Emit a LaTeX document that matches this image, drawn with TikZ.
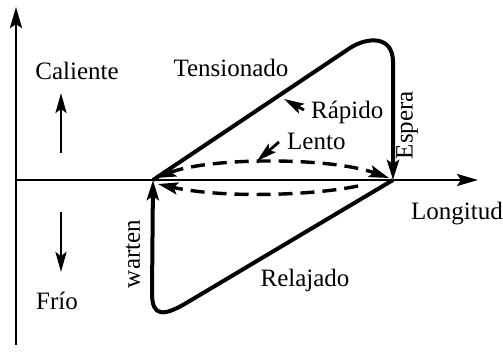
\documentclass[tikz,border=0pt]{standalone}
\usepackage{fontspec}
\setmainfont{Liberation Serif}
\usetikzlibrary{arrows.meta}
\begin{document}
\begin{tikzpicture}[x=1pt,y=-1pt,
  lbl/.style={inner sep=0pt,font=\fontsize{25}{29}\selectfont},
  axis/.style={line width=2.8pt,-{Stealth[length=21pt,width=12pt,inset=4pt]}},
  thick path/.style={line width=4pt},
  tip/.style={-{Stealth[length=20pt,width=12pt,inset=4pt]}},
  dashtip/.style={{Stealth[length=20pt,width=12pt,inset=4pt]}-{Stealth[length=20pt,width=12pt,inset=4pt]}},
  dashpath/.style={line width=3.4pt,dash pattern=on 14pt off 8pt},
  small arrow/.style={line width=2.8pt,-{Stealth[length=20pt,width=11pt,inset=4pt]}}]
\useasboundingbox (0,0) rectangle (503,355);
% axes
\coordinate (O) at (16,180);
\coordinate (Ytop) at (16,7);
\coordinate (Ybot) at (16,345);
\coordinate (Xend) at (478,180);
\draw[axis] (Ybot) -- (Ytop);
\draw[axis] (O) -- (Xend);
% key points
\coordinate (A) at (153,180);
\coordinate (B) at (393,180);
% upper loop
\draw[thick path,tip] (A) -- (350,48) .. controls (367,37) and (393,35) .. (393,62) -- (B);
% lower loop
\draw[thick path,tip] (B) -- (188,302) .. controls (163,317) and (152,317) .. (152,293) -- (A);
% dashed arcs
\draw[dashpath,dashtip] (156,178) .. controls (210,157) and (330,157) .. (389,178);
\draw[dashpath,tip] (358,186) .. controls (310,196) and (220,198) .. (158,184);
% labels
\node[lbl] (cal) at (77,71) {Caliente};
\node[lbl] (frio) at (57,301) {Frío};
\coordinate (u1) at (61,153); \coordinate (u2) at (61,93);
\coordinate (d1) at (61,212); \coordinate (d2) at (61,272);
\draw[small arrow] (u1) -- (u2);
\draw[small arrow] (d1) -- (d2);
\node[lbl] (ten) at (231,68) {Tensionado};
\node[lbl,anchor=west] (rap) at (311,112) {Rápido};
\coordinate (rt) at (284,99);
\draw[small arrow] (rap.west) ++(-7,-2) -- (rt);
\node[lbl,anchor=west] (len) at (287,141) {Lento};
\coordinate (lt) at (257,161);
\draw[small arrow] (len.west) ++(-8,1) -- (lt);
\node[lbl,rotate=90] (esp) at (407,125) {Espera};
\node[lbl,rotate=90] (war) at (133,254) {warten};
\node[lbl] (rel) at (305,280) {Relajado};
\node[lbl] (lon) at (457,214) {Longitud};
\end{tikzpicture}
\end{document}
